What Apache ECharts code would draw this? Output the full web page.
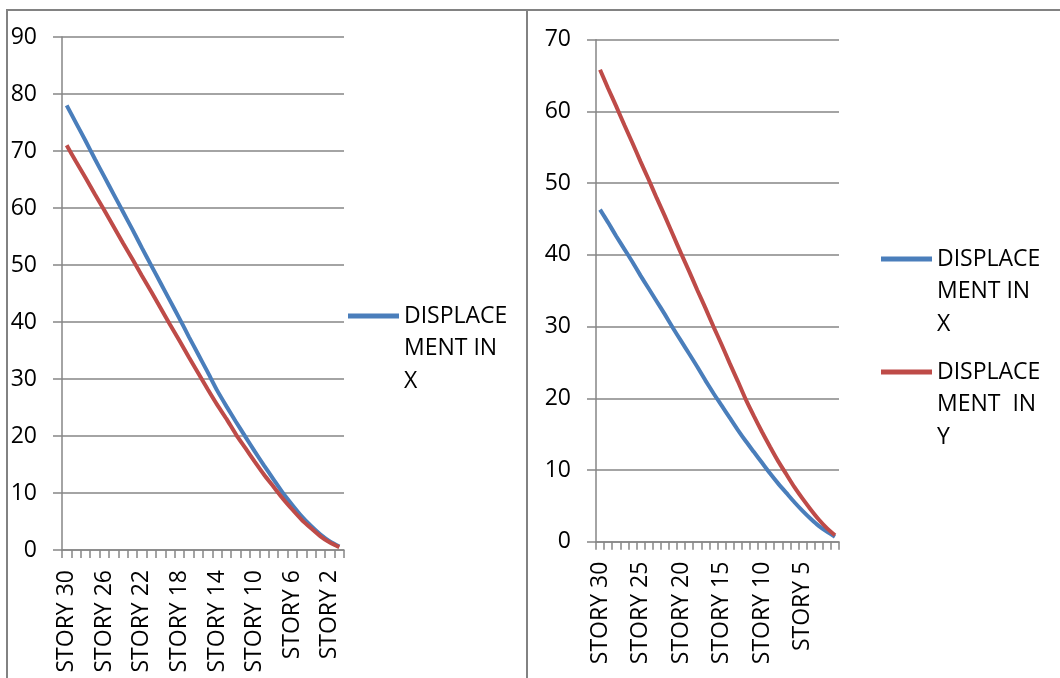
<!DOCTYPE html>
<html>
<head>
<meta charset="utf-8">
<script src="https://cdn.jsdelivr.net/npm/echarts@6/dist/echarts.min.js"></script>
<style>
  html, body { margin: 0; padding: 0; background: #fff; }
  #wrap { position: relative; width: 1060px; height: 678px; overflow: hidden; }
  #main { position: absolute; left: 0; top: 0; width: 1060px; height: 678px; }
  .rule { position: absolute; background: #828282; pointer-events: none; }
</style>
</head>
<body>
<div id="wrap">
  <div id="main"></div>
  <!-- table borders around the two charts -->
  <div class="rule" style="left:6px; top:9px; width:1054px; height:2px;"></div>
  <div class="rule" style="left:6px; top:9px; width:2px; height:669px;"></div>
  <div class="rule" style="left:526px; top:9px; width:2px; height:669px;"></div>
</div>
<script>
// categories, top storey first (same for both charts)
var stories = ['STORY 30', 'STORY 29', 'STORY 28', 'STORY 27', 'STORY 26', 'STORY 25',
    'STORY 24', 'STORY 23', 'STORY 22', 'STORY 21', 'STORY 20', 'STORY 19', 'STORY 18',
    'STORY 17', 'STORY 16', 'STORY 15', 'STORY 14', 'STORY 13', 'STORY 12', 'STORY 11',
    'STORY 10', 'STORY 9', 'STORY 8', 'STORY 7', 'STORY 6', 'STORY 5', 'STORY 4',
    'STORY 3', 'STORY 2', 'STORY 1'];

// left chart
var leftX = [78, 74.9, 71.8, 68.6, 65.5, 62.4, 59.3, 56.2, 53.0, 49.9, 46.8, 43.7, 40.6,
    37.4, 34.3, 31.2, 28.0, 25.2, 22.5, 19.9, 17.3, 14.8, 12.4, 10.0, 7.9, 5.9, 4.2, 2.7, 1.5, 0.6];
var leftY = [71, 68.1, 65.3, 62.4, 59.6, 56.7, 53.8, 51.0, 48.1, 45.3, 42.4, 39.5, 36.7,
    33.8, 31.0, 28.2, 25.5, 23.0, 20.3, 17.9, 15.5, 13.2, 11.1, 9.0, 7.1, 5.3, 3.8, 2.4, 1.3, 0.5];

// right chart
var rightX = [46.3, 44.5, 42.6, 40.8, 39.0, 37.1, 35.3, 33.5, 31.7, 29.8, 28.0, 26.2, 24.4,
    22.5, 20.7, 19.0, 17.3, 15.6, 14.0, 12.5, 11.0, 9.5, 8.1, 6.8, 5.5, 4.3, 3.2, 2.2, 1.4, 0.7];
var rightY = [65.8, 63.2, 60.7, 58.1, 55.6, 53.0, 50.5, 47.9, 45.4, 42.8, 40.2, 37.7, 35.1,
    32.6, 30.0, 27.5, 24.9, 22.4, 19.8, 17.5, 15.3, 13.2, 11.2, 9.4, 7.6, 6.0, 4.5, 3.1, 1.9, 0.9];

var nameX = 'DISPLACEMENT IN X';
var nameY = 'DISPLACEMENT IN Y';
// legend text as wrapped in the original
var legendText = {};
legendText[nameX] = 'DISPLACE\nMENT IN\nX';
legendText[nameY] = 'DISPLACE\nMENT  IN\nY';

var BLUE = '#4a7ebb';
var RED = '#be4b48';
var GRAY = '#868686';
var FONT = 'Open Sans';
var FS = 23;

function yAxis(idx, max) {
    return {
        type: 'value', gridIndex: idx, min: 0, max: max, interval: 10,
        axisLine: { show: true, lineStyle: { color: GRAY, width: 1.5 } },
        axisTick: { show: true, length: 9, lineStyle: { color: GRAY, width: 1.5 } },
        splitLine: { show: true, lineStyle: { color: GRAY, width: 1.5 } },
        axisLabel: { color: '#000', fontFamily: FONT, fontSize: FS, margin: 25 }
    };
}

function xAxis(idx, every) {
    return {
        type: 'category', gridIndex: idx, data: stories, boundaryGap: true,
        axisLine: { show: true, lineStyle: { color: GRAY, width: 1.5 } },
        axisTick: { show: true, interval: 0, length: 8, lineStyle: { color: GRAY, width: 1.5 } },
        splitLine: { show: false },
        axisLabel: {
            interval: every - 1, rotate: 90, color: '#000',
            fontFamily: FONT, fontSize: FS, margin: 20
        }
    };
}

function line(name, data, color, idx) {
    return {
        name: name, type: 'line', data: data,
        xAxisIndex: idx, yAxisIndex: idx,
        symbol: 'none', smooth: 0.2,
        lineStyle: { color: color, width: 4 },
        itemStyle: { color: color }
    };
}

function legend(name, left, iconY) {
    // blank lines put the first text line level with the icon
    var lh = 32.5;
    return {
        data: [name], orient: 'vertical', left: left, top: iconY - 2.5 * lh,
        padding: 0, itemWidth: 51, itemHeight: 5, icon: 'rect',
        itemStyle: { borderWidth: 0 },
        formatter: function (n) { return '\n\n' + legendText[n]; },
        textStyle: { color: '#000', fontFamily: FONT, fontSize: FS, lineHeight: lh }
    };
}

var chart = echarts.init(document.getElementById('main'));
chart.setOption({
    animation: false,
    grid: [
        { left: 62, top: 37, width: 282, height: 513 },
        { left: 596, top: 39.7, width: 243, height: 502 }
    ],
    xAxis: [xAxis(0, 4), xAxis(1, 5)],
    yAxis: [yAxis(0, 90), yAxis(1, 70)],
    legend: [
        legend(nameX, 348, 316),
        legend(nameX, 881, 259),
        legend(nameY, 881, 372)
    ],
    series: [
        line(nameX, leftX, BLUE, 0),
        line(nameY, leftY, RED, 0),
        line(nameX, rightX, BLUE, 1),
        line(nameY, rightY, RED, 1)
    ]
});
</script>
</body>
</html>
